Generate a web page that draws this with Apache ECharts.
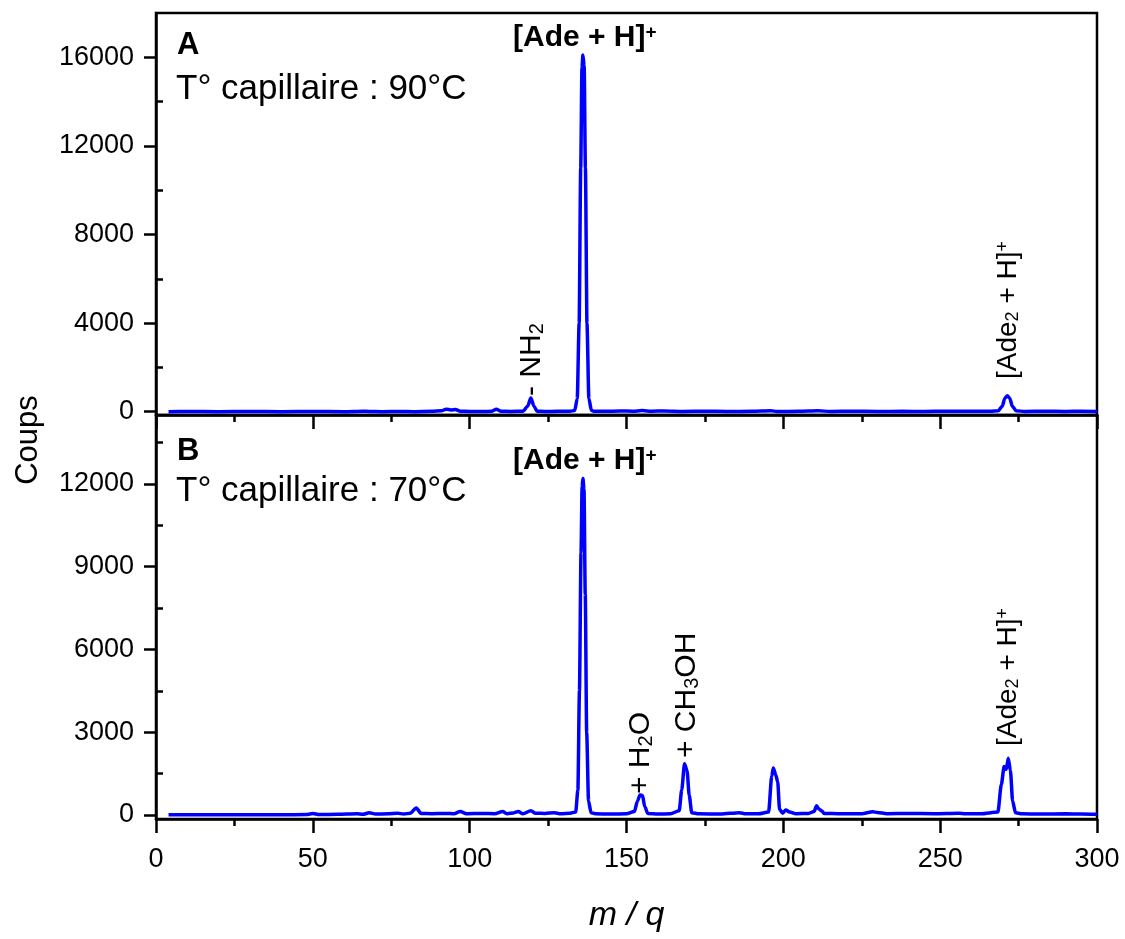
<!DOCTYPE html>
<html><head><meta charset="utf-8">
<script src="https://cdn.jsdelivr.net/npm/echarts@6/dist/echarts.min.js"></script>
<style>html,body{margin:0;padding:0;background:#fff}#c{width:1125px;height:939px}</style>
</head><body><div id="c"></div>
<script>
// ---- data ----
const mzA = [4,10,20,30,40,50,60,66,68,72,78,82,88,91,92.5,94,95.5,97,100,104,107,108.5,110,113,117,118.5,119.5,120.5,121.5,124,128,132,133.5,134.3,134.9,135.4,135.8,136.1,136.5,136.9,137.4,138,138.8,139.5,143,148,152,155,158,162,168,175,182,190,196,198,205,211,215,222,230,238,245,252,260,266,268.5,269.8,270.6,271.4,272.2,273,274.2,277,283,290,295,300];
const countsA = [0,5,0,5,0,5,0,20,10,0,10,0,15,40,110,80,100,20,10,5,20,110,20,10,20,250,620,250,20,10,15,20,50,600,4000,11000,15500,16100,15600,11000,4000,600,60,20,15,30,20,50,20,30,10,20,10,15,40,10,15,40,10,20,10,15,10,20,15,20,40,250,600,720,600,250,40,10,20,10,20,10];
const mzB = [4,10,20,30,40,48,50,52,58,64,66,68,70,74,77,79,81,83,84.5,88,92,95,97,99,104,108,110.5,112,114,115.5,117,119.5,121,124,127,129,132,133.8,134.5,135,135.5,135.85,136.1,136.45,136.85,137.3,137.9,138.7,140,145,150,152.5,153.5,154.3,155.1,155.8,156.8,160,164,166.8,167.6,168.5,169.3,170,170.8,173,180,186,188,192,195.3,196.3,196.8,197.6,198.2,198.8,199.8,200.8,202,204,208,209.8,210.6,211.4,212.3,213,218,225,228.5,230,233,240,248,256,258,263,268.4,269.5,270.4,271.1,271.7,272.4,273.1,274,276,282,290,295,300];
const countsB = [0,0,5,0,5,10,50,10,20,40,20,80,30,40,60,30,60,250,50,40,50,40,120,40,50,40,120,40,70,120,40,150,60,50,80,40,60,100,900,4500,9500,11900,12200,11800,8000,3000,500,80,40,30,40,120,500,720,700,300,50,30,40,150,900,1850,1600,700,80,40,30,80,40,40,100,1400,1700,1450,1200,200,60,180,100,40,50,120,330,200,140,50,40,40,110,90,40,50,40,60,40,40,100,1100,1750,1650,2050,1600,500,80,40,30,40,30,20];
const yTicksA = [0,4000,8000,12000,16000];
const yMinorA = [2000,6000,10000,14000];
const yTicksB = [0,3000,6000,9000,12000];
const yMinorB = [1500,4500,7500,10500,13500];

// ---- styling ----
const F = "'Liberation Sans', Arial, sans-serif";
const BLUE = '#0000ff';
const axW = 2.5;
const TICKFONT = 27;

function xAx(gi, labels) {
  return {
    gridIndex: gi, type: 'value', min: 0, max: 300, interval: 50,
    axisLine: {show: true, onZero: false, lineStyle: {color: '#000', width: axW}},
    axisTick: {show: true, length: 14, lineStyle: {color: '#000', width: axW}},
    minorTick: {show: true, splitNumber: 2, length: 7, lineStyle: {color: '#000', width: axW}},
    axisLabel: {show: labels, fontSize: TICKFONT, margin: 27, color: '#000', fontFamily: F},
    splitLine: {show: false}, minorSplitLine: {show: false},
    name: labels ? 'm / q' : '', nameLocation: 'middle', nameGap: 80,
    nameTextStyle: {fontSize: 34, fontStyle: 'italic', color: '#000', fontFamily: F}
  };
}
function yAx(gi, min, max, ticks) {
  return {
    gridIndex: gi, type: 'value', min: min, max: max,
    axisLine: {show: true, onZero: false, lineStyle: {color: '#000', width: axW}},
    axisTick: {show: true, length: 12, customValues: ticks, lineStyle: {color: '#000', width: axW}},
    axisLabel: {show: true, customValues: ticks, fontSize: TICKFONT, margin: 22, color: '#000', fontFamily: F,
      formatter: v => String(v)},
    splitLine: {show: false}
  };
}
function yMinor(gi, min, max, ticks) {
  return {
    gridIndex: gi, type: 'value', min: min, max: max,
    axisLine: {show: false},
    axisTick: {show: true, length: 7, customValues: ticks, lineStyle: {color: '#000', width: axW}},
    axisLabel: {show: false},
    splitLine: {show: false}
  };
}
function zip(xs, ys) { return xs.map((x, i) => [x, ys[i]]); }

function plainText(x, y, text, size, weight) {
  return {type: 'text', x: x, y: y, silent: true,
    style: {text: text, fontSize: size, fontWeight: weight || 'normal', fontFamily: F, fill: '#000',
      align: 'left', verticalAlign: 'middle', textAlign: 'left', textVerticalAlign: 'middle'}};
}
function richText(x, y, text, size, weight, rot, subRatio) {
  const sub = Math.round(size * (subRatio || 0.62));
  return {type: 'text', x: x, y: y, rotation: rot || 0, silent: true,
    style: {text: text, fontFamily: F, fill: '#000', fontSize: size, fontWeight: weight,
      align: 'left', verticalAlign: 'middle', textAlign: 'left', textVerticalAlign: 'middle',
      rich: {
        n: {fontSize: size, fontWeight: weight, fontFamily: F, fill: '#000', color: '#000'},
        sb: {fontSize: sub, fontWeight: weight, fontFamily: F, fill: '#000', color: '#000', verticalAlign: 'bottom'},
        sp: {fontSize: sub, fontWeight: weight, fontFamily: F, fill: '#000', color: '#000', verticalAlign: 'top'}
      }}};
}
const R = Math.PI / 2;

const chart = echarts.init(document.getElementById('c'), null, {renderer: 'canvas'});
chart.setOption({
  animation: false,
  backgroundColor: '#fff',
  grid: [
    {left: 156, right: 28, top: 13, height: 402, show: true, borderColor: '#000', borderWidth: axW, backgroundColor: 'transparent'},
    {left: 156, right: 28, top: 415, height: 404, show: true, borderColor: '#000', borderWidth: axW, backgroundColor: 'transparent'}
  ],
  xAxis: [xAx(0, false), xAx(1, true)],
  yAxis: [
    yAx(0, -150, 18000, yTicksA), yMinor(0, -150, 18000, yMinorA),
    yAx(1, -150, 14500, yTicksB), yMinor(1, -150, 14500, yMinorB)
  ],
  series: [
    {type: 'line', xAxisIndex: 0, yAxisIndex: 0, data: zip(mzA, countsA), showSymbol: false,
      smooth: 0.25, smoothMonotone: 'x',
      lineStyle: {color: BLUE, width: 3.5}, itemStyle: {color: BLUE}, clip: true},
    {type: 'line', xAxisIndex: 1, yAxisIndex: 2, data: zip(mzB, countsB), showSymbol: false,
      smooth: 0.25, smoothMonotone: 'x',
      lineStyle: {color: BLUE, width: 3.5}, itemStyle: {color: BLUE}, clip: true}
  ],
  graphic: [
    plainText(177, 45, 'A', 31, 'bold'),
    plainText(176, 89, 'T° capillaire : 90°C', 35),
    richText(513, 38, '{n|[Ade + H]}{sp|+}', 30, 'bold'),
    plainText(177, 451, 'B', 31, 'bold'),
    plainText(176, 491, 'T° capillaire : 70°C', 35),
    richText(513, 461, '{n|[Ade + H]}{sp|+}', 30, 'bold'),
    richText(532, 396, '{n|- NH}{sb|2}', 30, 'normal', R, 0.66),
    richText(1008, 379, '{n|[Ade}{sb|2}{n| + H]}{sp|+}', 28, 'normal', R, 0.66),
    richText(641, 794, '{n|+ H}{sb|2}{n|O}', 30, 'normal', R, 0.66),
    richText(687, 758, '{n|+ CH}{sb|3}{n|OH}', 30, 'normal', R, 0.66),
    richText(1008, 746, '{n|[Ade}{sb|2}{n| + H]}{sp|+}', 28, 'normal', R, 0.66),
    {type: 'text', x: 28, y: 440, rotation: R, silent: true,
      style: {text: 'Coups', fontSize: 31, fontFamily: F, fill: '#000', align: 'center', verticalAlign: 'middle',
        textAlign: 'center', textVerticalAlign: 'middle'}}
  ]
});
</script>
</body></html>
